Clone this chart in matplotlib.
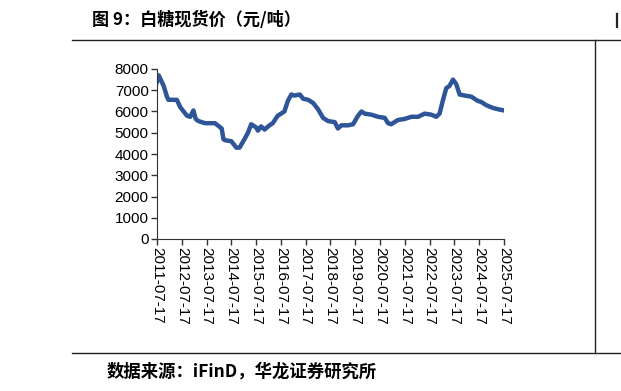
import matplotlib.pyplot as plt
from matplotlib.lines import Line2D

plt.rcParams['font.family'] = ['Liberation Sans', 'DejaVu Sans']

# decimal year positions and spot price (yuan/ton)
years = [2011.54, 2011.61, 2011.81, 2011.94, 2012.00, 2012.34, 2012.48, 2012.75, 2012.88,
         2013.01, 2013.10, 2013.21, 2013.48, 2013.88, 2014.15, 2014.22, 2014.28, 2014.54,
         2014.74, 2014.87, 2015.07, 2015.21, 2015.34, 2015.54, 2015.61, 2015.74, 2015.88,
         2016.08, 2016.21, 2016.41, 2016.68, 2016.82, 2016.96, 2017.09, 2017.30, 2017.44,
         2017.64, 2017.84, 2018.04, 2018.24, 2018.44, 2018.71, 2018.84, 2018.98, 2019.25,
         2019.45, 2019.65, 2019.79, 2019.92, 2020.19, 2020.46, 2020.73, 2020.86, 2020.99,
         2021.26, 2021.53, 2021.80, 2022.07, 2022.34, 2022.61, 2022.81, 2022.94, 2023.07,
         2023.21, 2023.34, 2023.48, 2023.61, 2023.75, 2023.95, 2024.22, 2024.48, 2024.62,
         2024.82, 2025.02, 2025.15, 2025.32, 2025.54]
price = [7400, 7700, 7200, 6700, 6550, 6550, 6200, 5800, 5750,
         6050, 5650, 5550, 5450, 5450, 5200, 4700, 4650, 4600,
         4300, 4300, 4700, 5000, 5400, 5250, 5100, 5300, 5150,
         5350, 5450, 5800, 6000, 6500, 6800, 6750, 6800, 6600,
         6550, 6400, 6100, 5700, 5550, 5500, 5200, 5350, 5350,
         5400, 5800, 6000, 5900, 5850, 5750, 5700, 5450, 5400,
         5600, 5650, 5750, 5750, 5900, 5850, 5750, 5900, 6500,
         7100, 7200, 7500, 7300, 6800, 6750, 6700, 6500, 6450,
         6300, 6200, 6150, 6100, 6050]
tick_years = list(range(2011, 2026))
tick_labels = [f'{y}-07-17' for y in tick_years]

fig = plt.figure(figsize=(6.21, 3.91), dpi=100)
ax = fig.add_axes([157 / 621, 1 - 239 / 391, 347 / 621, 170 / 391])

ax.plot(years, price, color='#2E5597', lw=3.2, solid_joinstyle='round')

ax.set_xlim(2011.54, 2025.54)
ax.set_ylim(0, 8000)
ax.set_yticks(range(0, 8001, 1000))
ax.set_xticks([y + 0.54 for y in tick_years])
ax.set_xticklabels(tick_labels, rotation=-90, va='top', ha='center')
ax.tick_params(axis='both', labelsize=11, length=4, width=1, color='#333333', pad=2)
for side in ['top', 'right']:
    ax.spines[side].set_visible(False)
for side in ['left', 'bottom']:
    ax.spines[side].set_color('#333333')

# page frame lines
fig.add_artist(Line2D([72 / 621, 1], [1 - 40 / 391] * 2, color='#222222', lw=1))
fig.add_artist(Line2D([72 / 621, 1], [1 - 353 / 391] * 2, color='#222222', lw=1))
fig.add_artist(Line2D([595 / 621] * 2, [1 - 40 / 391, 1 - 353 / 391], color='#222222', lw=1))
# edge of the next figure's title, cut off by the page
fig.add_artist(Line2D([617 / 621] * 2, [1 - 14 / 391, 1 - 27 / 391], color='#222222', lw=1.6))

cjk = ['Noto Sans CJK SC', 'DejaVu Sans']
fig.text(92 / 621, 1 - 20 / 391, '图 9：白糖现货价（元/吨）', family=cjk, fontsize=12.3,
         fontweight='bold', va='center', ha='left')
fig.text(107 / 621, 1 - 372 / 391, '数据来源：iFinD，华龙证券研究所', family=cjk, fontsize=12.5,
         fontweight='bold', va='center', ha='left')

fig.savefig('out.png', dpi=100)
